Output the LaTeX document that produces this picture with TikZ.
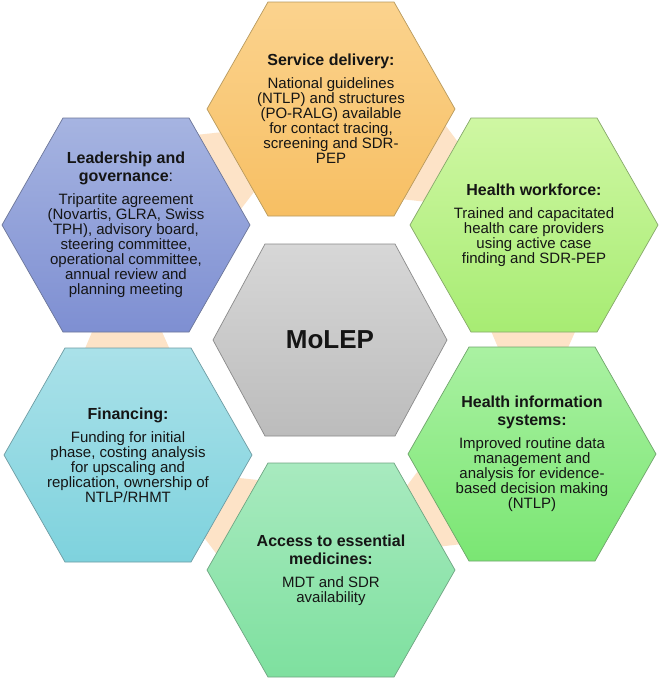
\documentclass[tikz,border=0pt]{standalone}
\usepackage{fontspec}
\setmainfont{Liberation Sans}
\usetikzlibrary{calc}
\definecolor{peachc}{HTML}{FDE3C7}
\definecolor{sTop}{HTML}{FBD38E}\definecolor{sBot}{HTML}{F7BF63}\definecolor{sLine}{HTML}{B89A5E}
\definecolor{lTop}{HTML}{A6B4E1}\definecolor{lBot}{HTML}{7E8FD2}\definecolor{lLine}{HTML}{6C7699}
\definecolor{wTop}{HTML}{CFF7A3}\definecolor{wBot}{HTML}{A7EC73}\definecolor{wLine}{HTML}{86A86A}
\definecolor{fTop}{HTML}{AAE1E9}\definecolor{fBot}{HTML}{7ED2DD}\definecolor{fLine}{HTML}{6E9CA3}
\definecolor{hTop}{HTML}{AAF1A2}\definecolor{hBot}{HTML}{7AE673}\definecolor{hLine}{HTML}{6FA56B}
\definecolor{aTop}{HTML}{A8EABF}\definecolor{aBot}{HTML}{7EE09F}\definecolor{aLine}{HTML}{6FA582}
\definecolor{mTop}{HTML}{D7D7D7}\definecolor{mBot}{HTML}{BCBCBC}\definecolor{mLine}{HTML}{8A8A8A}
\definecolor{txtc}{HTML}{151515}
\newcommand\hexshape[5]{%
  \path[#5] ($(#1)+(-#2,0)$) -- ($(#1)+(-#3,-#4)$) -- ($(#1)+(#3,-#4)$) --
    ($(#1)+(#2,0)$) -- ($(#1)+(#3,#4)$) -- ($(#1)+(-#3,#4)$) -- cycle;}
\newcommand\peachlink[2]{%
  \coordinate (pm) at ($(#1)!0.5!(#2)$);
  \coordinate (pf) at ($(pm)!22pt!(#1)$);
  \coordinate (pt) at ($(pm)!22pt!(#2)$);
  \fill[peachc] ($(pf)!48pt!90:(pm)$) -- ($(pt)!29pt!-90:(pm)$) --
    ($(pt)!29pt!90:(pm)$) -- ($(pf)!48pt!-90:(pm)$) -- cycle;}
\newcommand\ttl[1]{{\fontsize{16}{15}\selectfont\bfseries #1}}
\begin{document}
\begin{tikzpicture}[x=1pt,y=-1pt,
  hexS/.style={draw=sLine,line width=0.7pt,top color=sTop,bottom color=sBot},
  hexL/.style={draw=lLine,line width=0.7pt,top color=lTop,bottom color=lBot},
  hexW/.style={draw=wLine,line width=0.7pt,top color=wTop,bottom color=wBot},
  hexF/.style={draw=fLine,line width=0.7pt,top color=fTop,bottom color=fBot},
  hexH/.style={draw=hLine,line width=0.7pt,top color=hTop,bottom color=hBot},
  hexA/.style={draw=aLine,line width=0.7pt,top color=aTop,bottom color=aBot},
  hexM/.style={draw=mLine,line width=0.7pt,top color=mTop,bottom color=mBot},
  txt/.style={align=center,inner sep=0pt,text=txtc,font=\fontsize{15}{15}\selectfont}]
\useasboundingbox (0,0) rectangle (660,680);
\fill[white] (0,0) rectangle (660,680);
\coordinate (cS) at (331,109);
\coordinate (cL) at (126,225);
\coordinate (cW) at (534,225);
\coordinate (cF) at (128,455);
\coordinate (cH) at (532,454);
\coordinate (cA) at (331,570);
\coordinate (cM) at (330,340);
% peach connectors between neighbouring outer hexagons
\peachlink{cS}{cW}
\peachlink{cW}{cH}
\peachlink{cH}{cA}
\peachlink{cA}{cF}
\peachlink{cF}{cL}
\peachlink{cL}{cS}
% hexagons
\hexshape{cS}{124}{63}{107}{hexS}
\hexshape{cL}{124}{63}{107}{hexL}
\hexshape{cW}{124}{63}{107}{hexW}
\hexshape{cF}{124}{63}{107}{hexF}
\hexshape{cH}{124}{63}{107}{hexH}
\hexshape{cA}{124}{63}{107}{hexA}
\hexshape{cM}{117}{65}{96}{hexM}
% texts
\node[txt] (tS) at (cS) {\ttl{Service delivery:}\\[8pt]
  National guidelines\\(NTLP) and structures\\(PO-RALG) available\\
  for contact tracing,\\screening and SDR-\\PEP};
\node[txt] (tL) at (cL) {\ttl{Leadership and}\\[3pt]\ttl{governance}{\fontsize{16}{15}\selectfont:}\\[8pt]
  Tripartite agreement\\(Novartis, GLRA, Swiss\\TPH), advisory board,\\
  steering committee,\\operational committee,\\annual review and\\planning meeting};
\node[txt] (tW) at (cW) {\ttl{Health workforce:}\\[8pt]
  Trained and capacitated\\health care providers\\using active case\\finding and SDR-PEP};
\node[txt] (tF) at (cF) {\ttl{Financing:}\\[8pt]
  Funding for initial\\phase, costing analysis\\for upscaling and\\
  replication, ownership of\\NTLP/RHMT};
\node[txt] (tH) at (cH) {\ttl{Health information}\\[3pt]\ttl{systems:}\\[8pt]
  Improved routine data\\management and\\analysis for evidence-\\
  based decision making\\(NTLP)};
\node[txt] (tA) at (cA) {\ttl{Access to essential}\\[3pt]\ttl{medicines:}\\[8pt]
  MDT and SDR\\availability};
\node[txt,font=\fontsize{26}{26}\selectfont\bfseries] (tM) at (cM) {MoLEP};
\end{tikzpicture}
\end{document}
